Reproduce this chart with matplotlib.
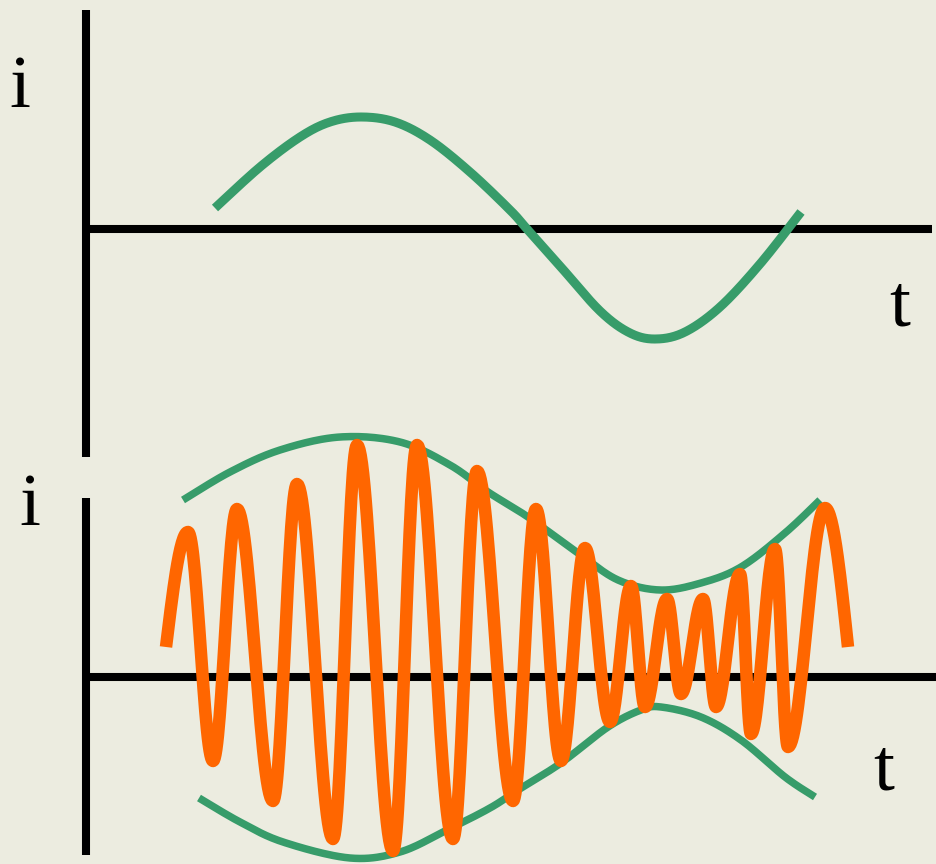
import numpy as np
import matplotlib
matplotlib.use("Agg")
import matplotlib.pyplot as plt

# picture coordinates (x right, y down)
wave_x = [215, 260, 300, 330, 361, 395, 430, 470, 510, 527, 560, 600, 630, 656, 685, 720, 760, 801]
wave_y = [208, 167, 137, 122, 117, 122, 140, 172, 210, 229, 266, 311, 333, 339, 332, 307, 264, 212]

env_top_x = [183, 230, 280, 340, 400, 450, 488, 528, 578, 618, 660, 701, 741, 785, 820]
env_top_y = [500, 472, 450, 437, 442, 465, 492, 517, 553, 580, 590, 583, 567, 533, 500]

env_bot_x = [199, 240, 283, 350, 400, 447, 490, 518, 561, 608, 641, 661, 701, 741, 785, 815]
env_bot_y = [798, 822, 842, 858, 852, 830, 808, 790, 763, 727, 710, 707, 717, 740, 777, 797]

carrier_x = [166, 188, 213, 237, 273, 297, 333, 357, 393, 417, 453, 477, 513, 536, 561,
             585, 610, 631, 645, 667, 681, 703, 716, 740, 751, 775, 788, 825, 848]
carrier_y = [647, 532, 761, 509, 801, 484, 839, 445, 851, 445, 839, 471, 801, 509, 761,
             548, 722, 586, 707, 599, 694, 599, 707, 574, 734, 549, 747, 508, 647]

BG = "#ecece0"
GREEN = "#379c6a"
ORANGE = "#ff6600"


def catmull(xs, ys, n=24):
    p = np.column_stack([xs, ys]).astype(float)
    p = np.vstack([p[0], p, p[-1]])
    t = np.linspace(0, 1, n)[:, None]
    out = []
    for i in range(1, len(p) - 2):
        p0, p1, p2, p3 = p[i - 1], p[i], p[i + 1], p[i + 2]
        seg = 0.5 * (2 * p1 + (-p0 + p2) * t + (2 * p0 - 5 * p1 + 4 * p2 - p3) * t ** 2
                     + (-p0 + 3 * p1 - 3 * p2 + p3) * t ** 3)
        out.append(seg if i == 1 else seg[1:])
    out = np.vstack(out)
    return out[:, 0], out[:, 1]


def carrier(xs, ys, n=30):
    X, Y = [], []
    last = len(xs) - 2
    for i in range(len(xs) - 1):
        s = np.linspace(0, 1, n)
        x0, x1, y0, y1 = xs[i], xs[i + 1], ys[i], ys[i + 1]
        if i == 0:
            f = np.sin(np.pi / 2 * s)
        elif i == last:
            f = 1 - np.cos(np.pi / 2 * s)
        else:
            f = (1 - np.cos(np.pi * s)) / 2
        X.extend(x0 + (x1 - x0) * s)
        Y.extend(y0 + (y1 - y0) * f)
    return np.array(X), np.array(Y)


fig = plt.figure(figsize=(9.36, 8.64), dpi=100, facecolor=BG)
ax = fig.add_axes([0, 0, 1, 1])
ax.set_facecolor(BG)
ax.set_xlim(0, 936)
ax.set_ylim(864, 0)
ax.axis("off")

# axes of both panels
ax.plot([86, 86], [10, 457], color="black", lw=5.8, solid_capstyle="butt")
ax.plot([86, 932], [229, 229], color="black", lw=5.8, solid_capstyle="butt")
ax.plot([86, 86], [498, 855], color="black", lw=5.8, solid_capstyle="butt")
ax.plot([86, 936], [677, 677], color="black", lw=5.8, solid_capstyle="butt")

# top: modulating signal
x, y = catmull(wave_x, wave_y)
ax.plot(x, y, color=GREEN, lw=6.5, solid_capstyle="butt", zorder=3)

# bottom: envelopes and modulated carrier
x, y = catmull(env_top_x, env_top_y)
ax.plot(x, y, color=GREEN, lw=5.4, solid_capstyle="butt", zorder=3)
x, y = catmull(env_bot_x, env_bot_y)
ax.plot(x, y, color=GREEN, lw=5.4, solid_capstyle="butt", zorder=3)
x, y = carrier(carrier_x, carrier_y)
ax.plot(x, y, color=ORANGE, lw=9, solid_capstyle="butt", solid_joinstyle="round", zorder=4)

font = dict(family="Liberation Serif", fontsize=54, ha="center", va="baseline")
ax.text(20, 107, "i", **font)
ax.text(900, 325, "t", **font)
ax.text(30, 525, "i", **font)
ax.text(884, 790, "t", **font)

fig.savefig("out.png", dpi=100, facecolor=BG)
